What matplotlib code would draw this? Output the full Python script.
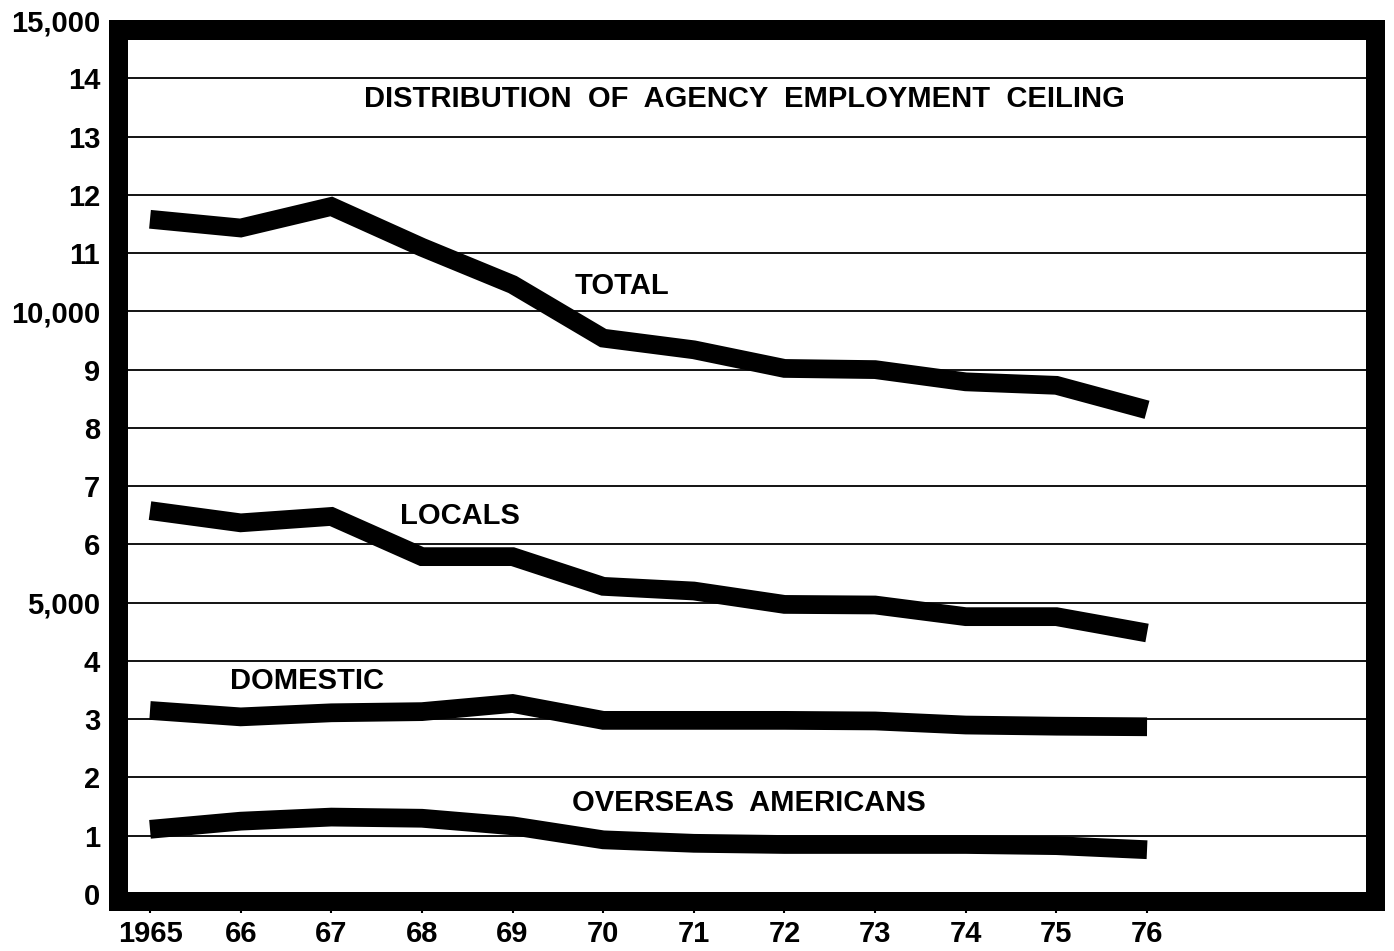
import numpy as np
import matplotlib
matplotlib.use("Agg")
import matplotlib.pyplot as plt
from matplotlib.patches import Rectangle

years = [1965, 1966, 1967, 1968, 1969, 1970, 1971, 1972, 1973, 1974, 1975, 1976]
year_labels = ["1965", "66", "67", "68", "69", "70", "71", "72", "73", "74", "75", "76"]

# thousands of positions
total = [11.58, 11.43, 11.80, 11.10, 10.46, 9.54, 9.34, 9.02, 9.00, 8.79, 8.73, 8.31]
locals_ = [6.58, 6.37, 6.48, 5.79, 5.79, 5.28, 5.20, 4.97, 4.96, 4.76, 4.76, 4.48]
domestic = [3.15, 3.04, 3.11, 3.13, 3.27, 2.98, 2.98, 2.98, 2.97, 2.90, 2.88, 2.87]
overseas = [1.11, 1.25, 1.32, 1.30, 1.17, 0.93, 0.87, 0.85, 0.85, 0.85, 0.83, 0.76]

y_ticks = list(range(0, 16))
y_labels = ["0", "1", "2", "3", "4", "5,000", "6", "7", "8", "9",
            "10,000", "11", "12", "13", "14", "15,000"]

plt.rcParams["font.family"] = ["Liberation Sans", "DejaVu Sans"]
plt.rcParams["font.weight"] = "bold"

W, H = 1394, 951
fig = plt.figure(figsize=(W / 100, H / 100), dpi=100)

def px(x0, y0, x1, y1):
    # pixel box (top-left origin) -> figure fraction rect
    return [x0 / W, 1 - y1 / H, (x1 - x0) / W, (y1 - y0) / H]

ax = fig.add_axes(px(128, 20, 1366, 894))
x0 = 1965 - 22 / 90.64
x1 = 1965 + (1366 - 150) / 90.64
ax.set_xlim(x0, x1)
ax.set_ylim(0, 15)

for s in ax.spines.values():
    s.set_visible(False)

fs = 21
ax.set_yticks(y_ticks)
ax.set_yticklabels(y_labels)
ax.set_xticks(years)
ax.set_xticklabels(year_labels)
ax.tick_params(axis="y", length=0, pad=20, labelsize=fs)
ax.tick_params(axis="x", direction="out", length=14, width=1.5, pad=5, labelsize=fs)
ax.yaxis.grid(True, color="black", linewidth=1.3)
ax.set_axisbelow(True)

for series in [total, locals_, domestic, overseas]:
    ax.plot(years, series, color="black", linewidth=13.5,
            solid_capstyle="butt", solid_joinstyle="miter", zorder=3)

ax.text(1971.56, 13.65, "DISTRIBUTION  OF  AGENCY  EMPLOYMENT  CEILING",
        ha="center", va="center", fontsize=fs)
ax.text(1969.69, 10.43, "TOTAL", ha="left", va="center", fontsize=fs)
ax.text(1967.76, 6.49, "LOCALS", ha="left", va="center", fontsize=fs)
ax.text(1965.88, 3.66, "DOMESTIC", ha="left", va="center", fontsize=fs)
ax.text(1969.66, 1.56, "OVERSEAS  AMERICANS", ha="left", va="center", fontsize=fs)

# heavy frame around the plot
for box in [(109, 20, 128, 911), (109, 20, 1385, 40),
            (1366, 20, 1385, 911), (109, 892, 1385, 911)]:
    r = px(*box)
    fig.patches.append(Rectangle((r[0], r[1]), r[2], r[3], transform=fig.transFigure,
                                 facecolor="black", edgecolor="none", zorder=1))

fig.savefig("out.png", dpi=100)
